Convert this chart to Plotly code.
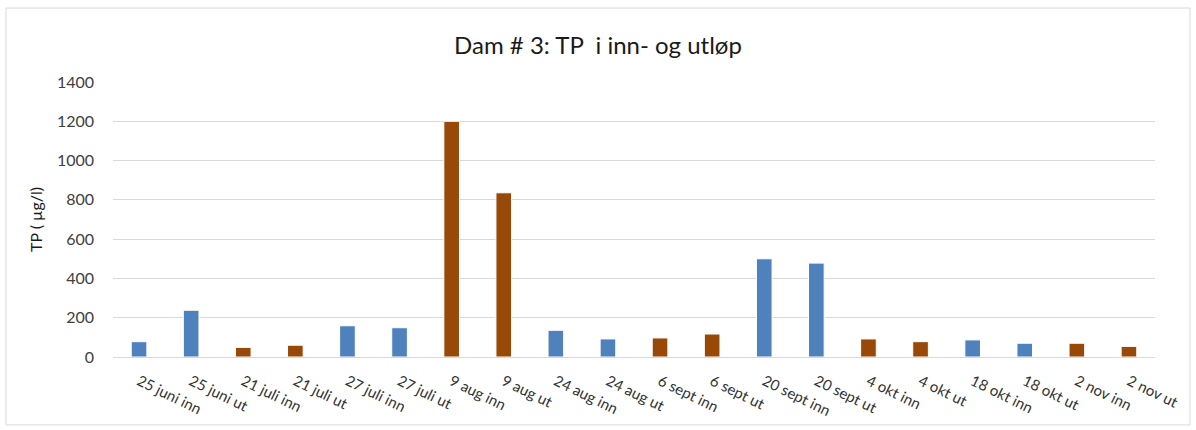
import plotly.graph_objects as go

# Sampling occasions (inlet / outlet) and total phosphorus values
categories = [
    "25 juni inn", "25 juni ut", "21 juli inn", "21 juli ut",
    "27 juli inn", "27 juli ut", "9 aug inn", "9 aug ut",
    "24 aug inn", "24 aug ut", "6 sept inn", "6 sept ut",
    "20 sept inn", "20 sept ut", "4 okt inn", "4 okt ut",
    "18 okt inn", "18 okt ut", "2 nov inn", "2 nov ut",
]
tp_values = [78, 238, 49, 60, 159, 149, 1200, 836, 136, 92,
             97, 117, 500, 478, 92, 78, 87, 70, 70, 54]
# Colour groups alternate every sampling date
colour_groups = ["blue", "blue", "brown", "brown"] * 5
y_ticks = [0, 200, 400, 600, 800, 1000, 1200, 1400]

palette = {"blue": "#4F81BD", "brown": "#984807"}
bar_colours = [palette[g] for g in colour_groups]

fig = go.Figure(
    go.Bar(
        x=categories,
        y=tp_values,
        marker=dict(color=bar_colours, line=dict(color="#FFFFFF", width=1)),
    )
)

font_family = "Lato, 'Open Sans', sans-serif"

fig.update_layout(
    width=1196,
    height=430,
    margin=dict(l=113, r=41, t=82, b=73),
    paper_bgcolor="white",
    plot_bgcolor="white",
    bargap=0.7,
    showlegend=False,
    font=dict(family=font_family, color="#404040"),
    title=dict(
        text="Dam # 3: TP\u00a0 i inn- og utløp",
        x=0.5,
        xref="container",
        xanchor="center",
        y=0.895,
        yanchor="middle",
        font=dict(size=24, color="#1a1a1a", family=font_family),
    ),
    xaxis=dict(
        tickangle=26,
        tickfont=dict(size=15, color="#333333"),
        ticklabelstandoff=9,
        automargin=False,
        showgrid=False,
        showline=True,
        linecolor="#D9D9D9",
        linewidth=1,
        ticks="",
    ),
    yaxis=dict(
        range=[0, 1400],
        tickvals=y_ticks,
        tickfont=dict(size=16, color="#404040"),
        ticklabelstandoff=18,
        gridcolor="#D9D9D9",
        gridwidth=1,
        zeroline=False,
        showline=False,
        ticks="",
        ticklen=0,
        title=dict(text="TP ( µg/l)", font=dict(size=16, color="#1a1a1a"), standoff=10),
    ),
    shapes=[
        dict(
            type="rect",
            xref="paper",
            yref="paper",
            x0=-0.1027,
            x1=1.0336,
            y0=-0.247,
            y1=1.269,
            line=dict(color="#D9D9D9", width=1),
            fillcolor="rgba(0,0,0,0)",
            layer="below",
        )
    ],
)

fig.write_html("out.html")
